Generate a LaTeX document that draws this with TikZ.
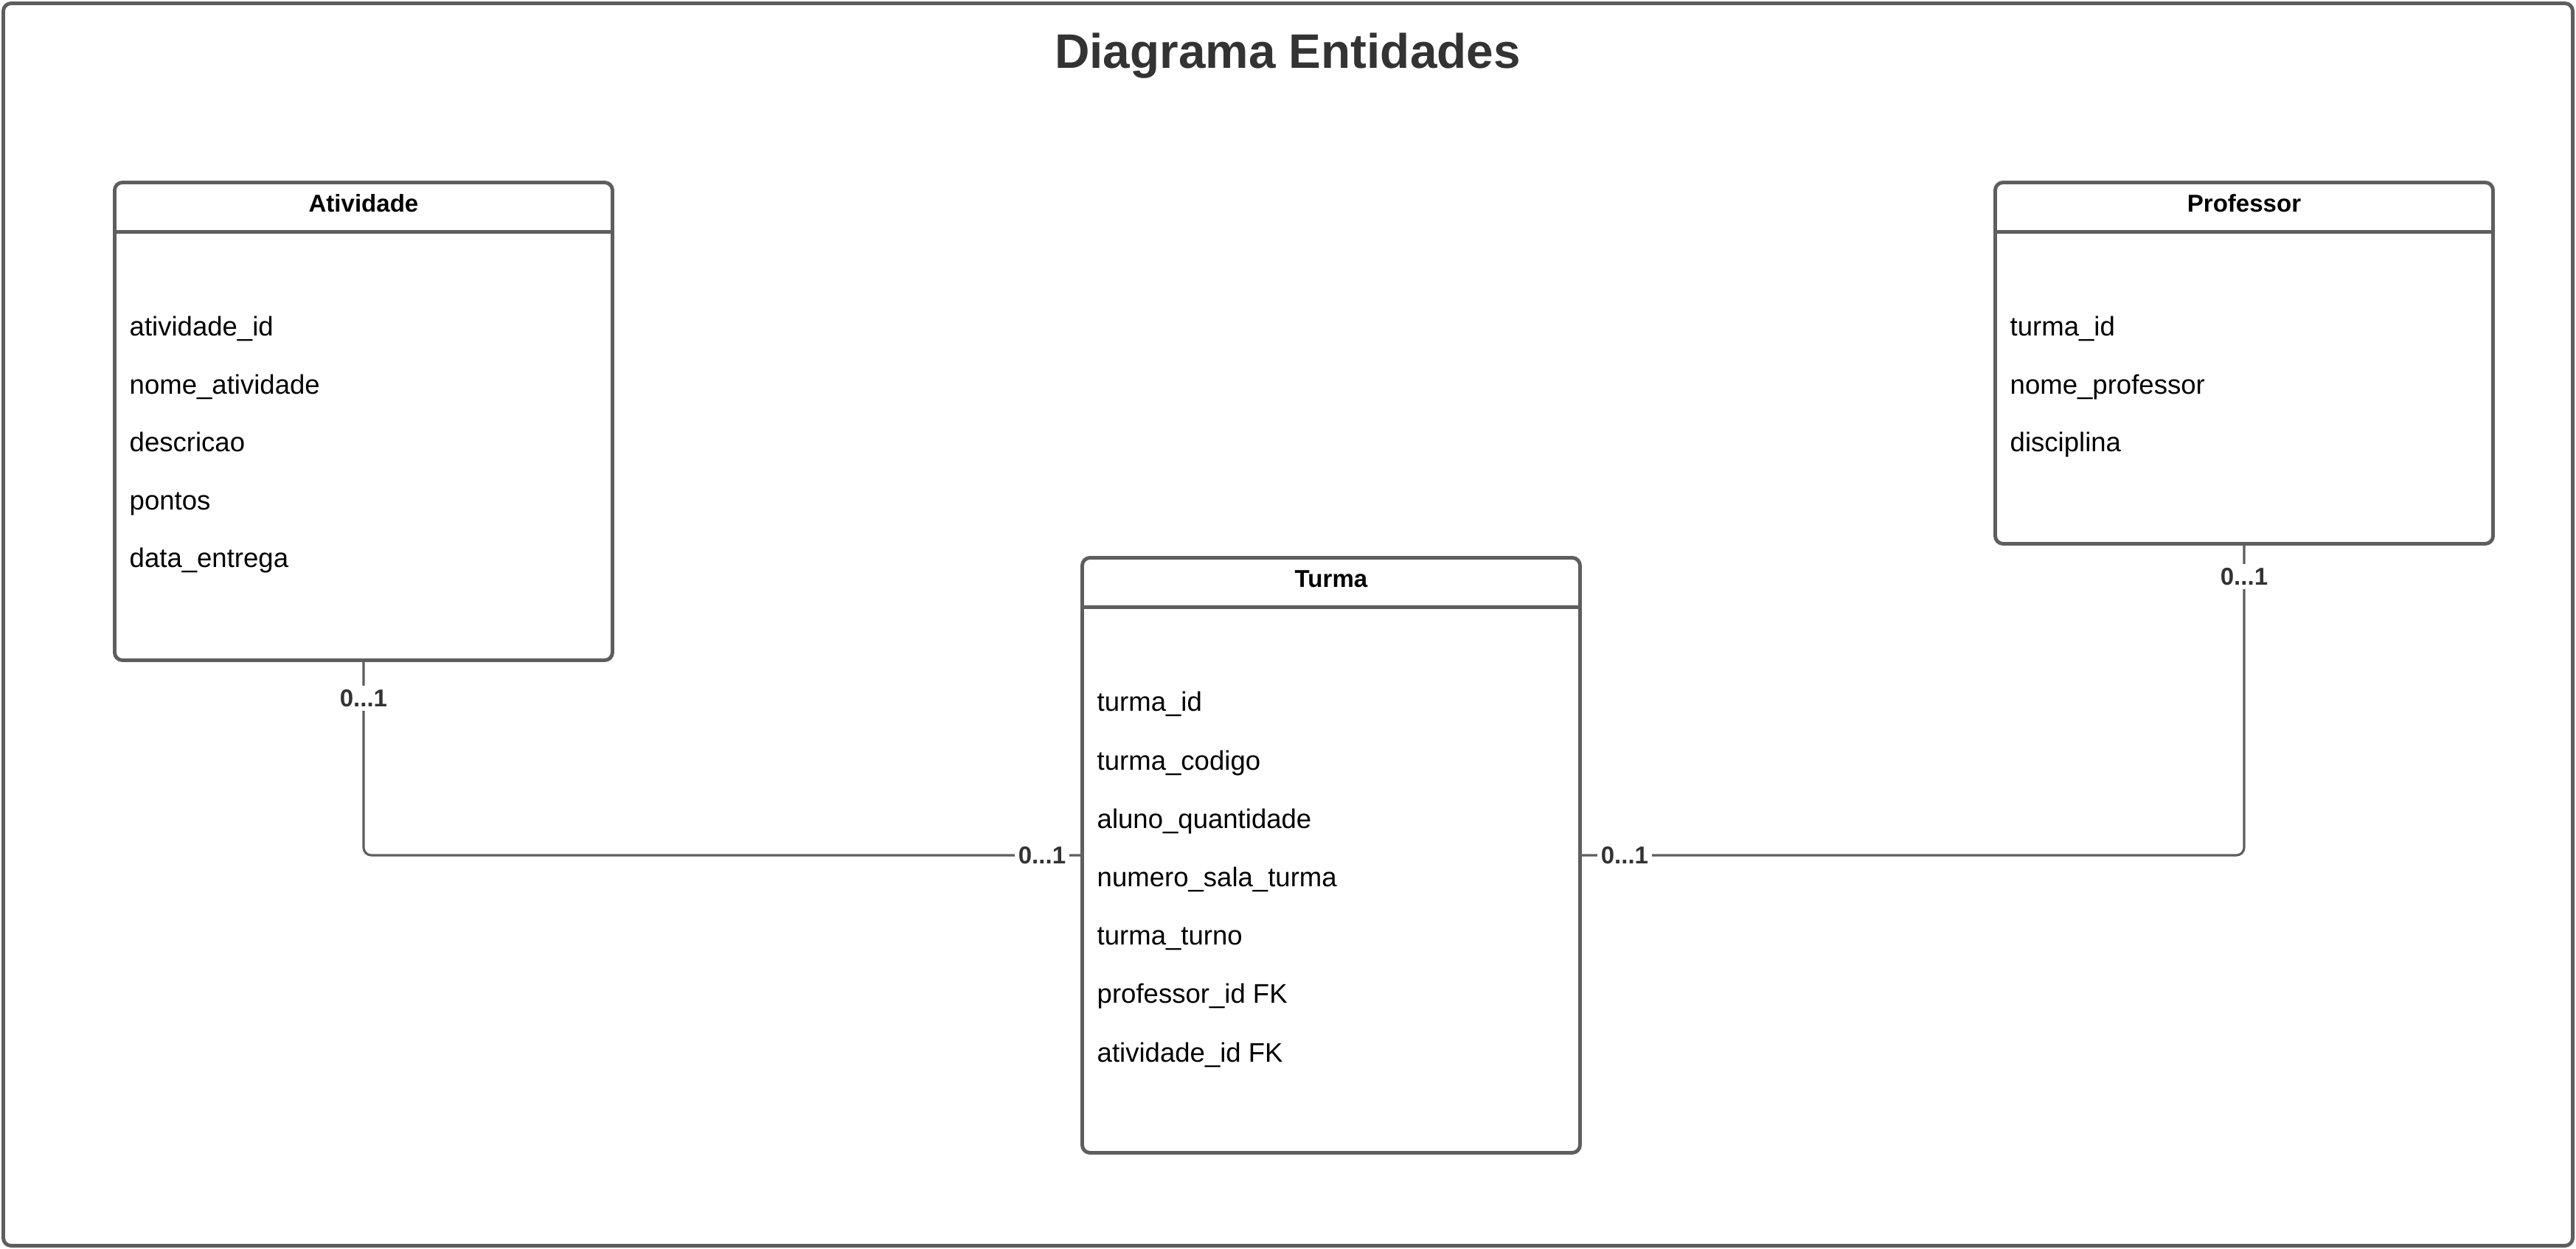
\documentclass[tikz,border=0pt]{standalone}
\usepackage{fontspec}
\setmainfont{Liberation Sans}
\definecolor{linegray}{HTML}{5E5E5E}
\definecolor{textgray}{HTML}{333333}
\tikzset{
    entity/.style={draw=linegray, line width=1.4pt, rounded corners=3pt, anchor=north west, inner sep=0pt, minimum width=6.75cm},
    entityhead/.style={font=\bfseries\fontsize{9.4}{11}\selectfont, text=black, inner sep=0pt},
    attr/.style={anchor=west, font=\fontsize{10.4}{12}\selectfont, text=black, inner sep=0pt, text height=0.75em, text depth=0.25em},
    conn/.style={draw=linegray, line width=0.9pt, rounded corners=3pt},
    card/.style={fill=white, text=textgray, font=\bfseries\fontsize{9.4}{11}\selectfont, inner sep=1.5pt},
}
\begin{document}
\begin{tikzpicture}
            % Define dimensions
            \def\headsep{0.695}
            \def\firstrow{2.02}
            \def\rowstep{0.785}
            \useasboundingbox (0,0) rectangle (34.93,-16.93);
            % Outer frame and title
            \draw[linegray, line width=1.4pt, rounded corners=3pt] (0.045,-0.045) rectangle (34.885,-16.895);
            \node[text=textgray, font=\bfseries\fontsize{18.7}{22}\selectfont] (titulo) at (17.46,-0.76) {Diagrama Entidades};
            % Draw the three entities
            \node[entity, minimum height=6.48cm] (atividade) at (1.53,-2.45) {};
            \node[entity, minimum height=8.07cm] (turma) at (14.65,-7.54) {};
            \node[entity, minimum height=4.90cm] (professor) at (27.03,-2.45) {};
            \foreach \ent/\name in {atividade/Atividade, turma/Turma, professor/Professor}
            {
                \draw[linegray, line width=1.4pt] ([yshift=-\headsep cm]\ent.north west) -- ([yshift=-\headsep cm]\ent.north east);
                \node[entityhead] (\ent-head) at ([yshift=-0.31cm]\ent.north) {\name};
            }
            % Attributes
            \foreach \attrib [count=\i from 0] in {atividade\_id, nome\_atividade, descricao, pontos, data\_entrega}
                \node[attr] (atividade-a\i) at ([xshift=0.22cm, yshift={-\firstrow cm-\i*\rowstep cm}]atividade.north west) {\attrib};
            \foreach \attrib [count=\i from 0] in {turma\_id, turma\_codigo, aluno\_quantidade, numero\_sala\_turma, turma\_turno, professor\_id FK, atividade\_id FK}
                \node[attr] (turma-a\i) at ([xshift=0.22cm, yshift={-2.02cm-\i*0.792cm}]turma.north west) {\attrib};
            \foreach \attrib [count=\i from 0] in {turma\_id, nome\_professor, disciplina}
                \node[attr] (professor-a\i) at ([xshift=0.22cm, yshift={-\firstrow cm-\i*\rowstep cm}]professor.north west) {\attrib};
            % Relationships
            \draw[conn] (atividade.south) |- (turma.west);
            \draw[conn] (turma.east) -| (professor.south);
            \node[card] (card-atividade) at ([yshift=-0.49cm]atividade.south) {0...1};
            \node[card] (card-turma-w) at ([xshift=-0.52cm]turma.west) {0...1};
            \node[card] (card-turma-e) at ([xshift=0.58cm]turma.east) {0...1};
            \node[card] (card-professor) at ([yshift=-0.42cm]professor.south) {0...1};
        \end{tikzpicture}
\end{document}
